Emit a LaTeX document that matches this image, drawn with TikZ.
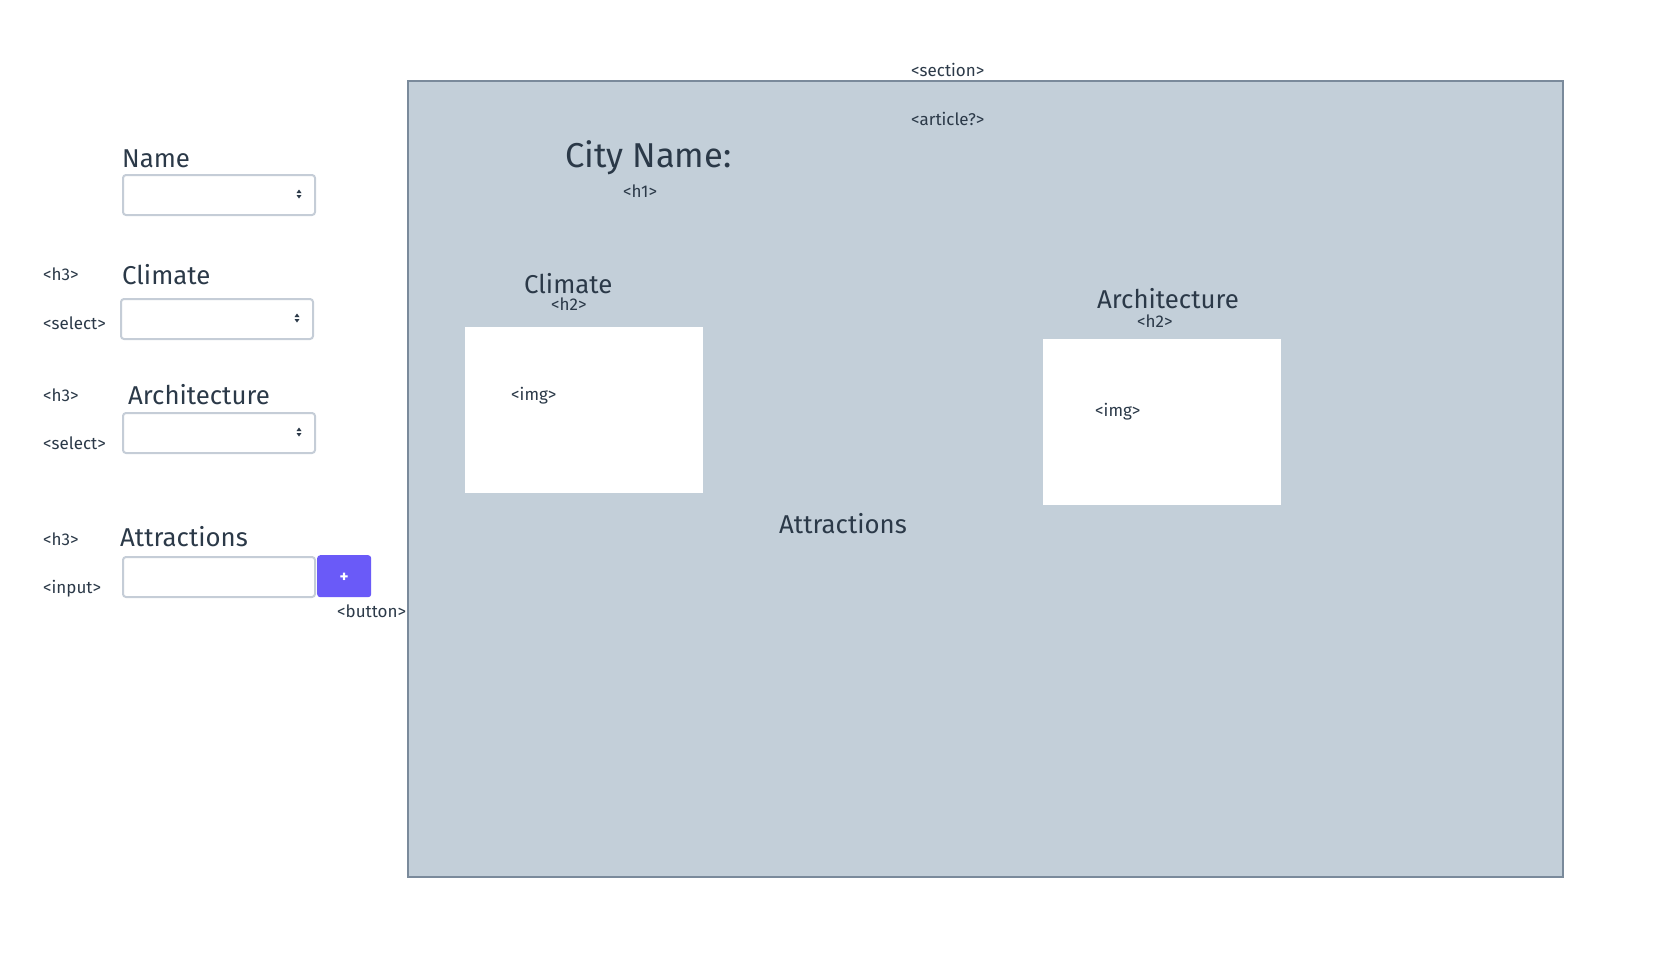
\documentclass[tikz,border=0pt]{standalone}
\usepackage{fontspec}
\setmainfont{Fira Sans}
\usetikzlibrary{calc}
\definecolor{secfill}{HTML}{C3CFD9}
\definecolor{secline}{HTML}{7A8A9B}
\definecolor{ink}{HTML}{2B3948}
\definecolor{fieldline}{HTML}{C5CDD7}
\definecolor{btnfill}{HTML}{6A5AF8}
\begin{document}
\begin{tikzpicture}[x=1pt,y=-1pt,
  head/.style={font=\fontsize{25.8}{30}\selectfont, text=ink, inner sep=0pt, anchor=base west},
  bigtitle/.style={font=\fontsize{34.5}{40}\selectfont, text=ink, inner sep=0pt, anchor=base west},
  tag/.style={font=\fontsize{17}{20}\selectfont, text=ink, inner sep=0pt, anchor=base west},
  field/.style={draw=fieldline, line width=2pt, fill=white, rounded corners=3pt, anchor=north west,
    minimum width=192pt, minimum height=40pt, inner sep=0pt},
  secbox/.style={draw=secline, line width=2.2pt, fill=secfill, anchor=north west,
    minimum width=1155pt, minimum height=796pt, inner sep=0pt},
  imgbox/.style={fill=white, anchor=north west, minimum width=238pt, minimum height=166pt, inner sep=0pt},
  btnbox/.style={fill=btnfill, rounded corners=3pt, anchor=north west, minimum width=54pt,
    minimum height=42pt, inner sep=0pt},
  btntext/.style={text=white, font=\fontsize{17}{20}\selectfont\bfseries, inner sep=0pt},
  spin/.pic={\fill[ink] (-2.5,-1) -- (2.5,-1) -- (0,-4.5) -- cycle;
             \fill[ink] (-2.5,1) -- (2.5,1) -- (0,4.5) -- cycle;}
]
\useasboundingbox (0,0) rectangle (1656,978);

% section
\node[secbox] (section) at (407,80) {};
\node[tag] (sectiontag) at (911,76) {<section>};
\node[tag] (articletag) at (911,125) {<article?>};
\node[bigtitle] (cityname) at (565,167) {City Name:};
\node[tag] (h1tag) at (623,197) {<h1>};

\node[head] (climh2) at (524,293) {Climate};
\node[tag] (climh2tag) at (551,310) {<h2>};
\node[imgbox] (climimg) at (465,327) {};
\node[tag, anchor=west] (climimgtag) at (511,396) {<img>};

\node[head] (archh2) at (1097,308) {Architecture};
\node[tag] (archh2tag) at (1137,327) {<h2>};
\node[imgbox] (archimg) at (1043,339) {};
\node[tag, anchor=west] (archimgtag) at (1095,412) {<img>};

\node[head] (attrh2) at (779,533) {Attractions};

% left panel
\node[head] (namelabel) at (122,167) {Name};
\node[field] (namesel) at (122,174) {};
\pic at ($(namesel.east)+(-17,-1)$) {spin};

\node[tag] (climh3tag) at (43,280) {<h3>};
\node[head] (climlabel) at (122,284) {Climate};
\node[tag] (climseltag) at (43,329) {<select>};
\node[field] (climsel) at (120,298) {};
\pic at ($(climsel.east)+(-17,-1)$) {spin};

\node[tag] (archh3tag) at (43,401) {<h3>};
\node[head] (archlabel) at (128,404) {Architecture};
\node[tag] (archseltag) at (43,449) {<select>};
\node[field] (archsel) at (122,412) {};
\pic at ($(archsel.east)+(-17,-1)$) {spin};

\node[tag] (attrh3tag) at (43,545) {<h3>};
\node[head] (attrlabel) at (120,546) {Attractions};
\node[tag] (inputtag) at (43,593) {<input>};
\node[field] (attrinput) at (122,556) {};
\node[btnbox] (addbtn) at (317,555) {};
\node[btntext, yshift=-1.5pt] (addbtnlabel) at (addbtn.center) {+};
\node[tag] (buttontag) at (337,617) {<button>};
\end{tikzpicture}
\end{document}
